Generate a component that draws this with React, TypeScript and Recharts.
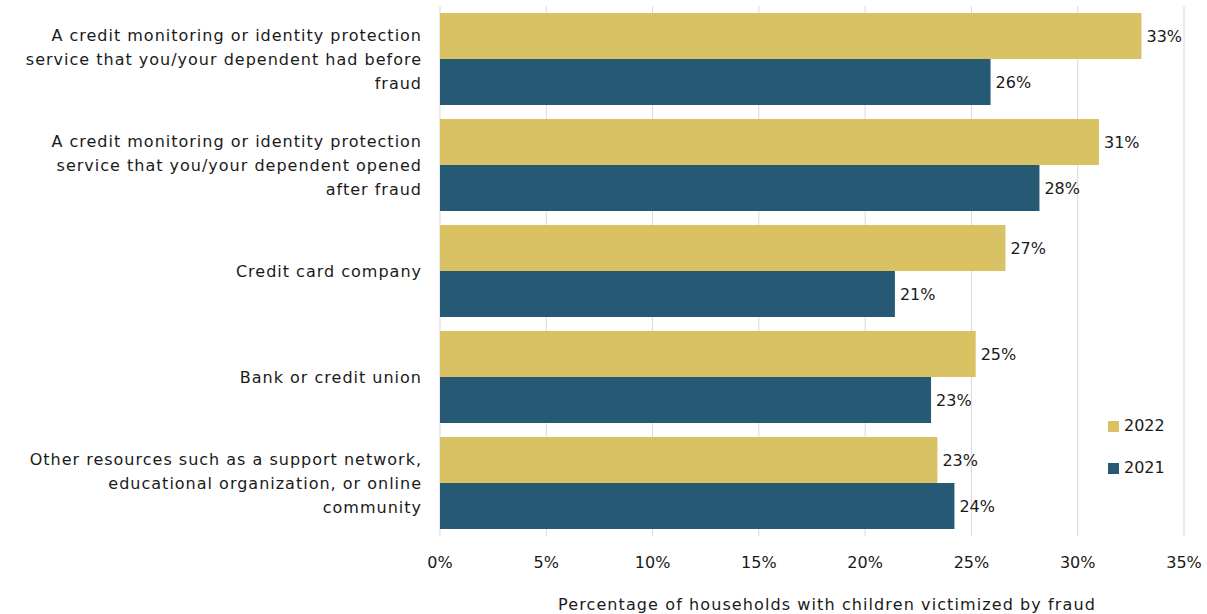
import React from "react";
import { Bar, BarChart, CartesianGrid, LabelList, XAxis, YAxis } from "recharts";

const categories = [
  "A credit monitoring or identity protection|service that you/your dependent had before|fraud",
  "A credit monitoring or identity protection|service that you/your dependent opened|after fraud",
  "Credit card company",
  "Bank or credit union",
  "Other resources such as a support network,|educational organization, or online|community",
];
const values2022 = [33.0, 31.0, 26.6, 25.2, 23.4];
const values2021 = [25.9, 28.2, 21.4, 23.1, 24.2];
const xTicks = [0, 5, 10, 15, 20, 25, 30, 35];

const GOLD = "#D9C263";
const BLUE = "#265A74";
const FONT = "'DejaVu Sans', sans-serif";
const TEXT = "#1a1a1a";
const FS = 16;

const data = categories.map((c, i) => ({ cat: c, y2022: values2022[i], y2021: values2021[i] }));

function CatTick(props: any) {
  const { x, y, payload } = props;
  const lines: string[] = String(payload.value).split("|");
  const lh = 24;
  const start = -((lines.length - 1) * lh) / 2;
  return (
    <text x={x} y={y} textAnchor="end" fill={TEXT} fontSize={FS} fontFamily={FONT} letterSpacing={1}>
      {lines.map((l, i) => (
        <tspan key={i} x={x} y={y + start + i * lh} dy="0.35em">
          {l}
        </tspan>
      ))}
    </text>
  );
}

function LegendBox() {
  const items = [
    { label: "2022", color: GOLD },
    { label: "2021", color: BLUE },
  ];
  return (
    <div
      style={{
        position: "absolute",
        left: 1108,
        top: 415,
        display: "flex",
        flexDirection: "column",
        gap: 20,
      }}
    >
      {items.map((it) => (
        <div
          key={it.label}
          style={{ display: "flex", alignItems: "center", gap: 5, fontFamily: FONT, fontSize: FS, color: TEXT, lineHeight: "22px" }}
        >
          <span style={{ width: 11, height: 11, background: it.color, display: "inline-block" }} />
          {it.label}
        </div>
      ))}
    </div>
  );
}

export default function App() {
  return (
    <div style={{ position: "absolute", left: 0, top: 0, width: 1207, height: 614, background: "#fff" }}>
      <BarChart
        width={1207}
        height={614}
        data={data}
        layout="vertical"
        margin={{ top: 6, right: 23, bottom: 48, left: 0 }}
        barCategoryGap={7}
        barGap={0}
      >
        <CartesianGrid horizontal={false} vertical stroke="#d9d9d9" />
        <XAxis
          type="number"
          domain={[0, 35]}
          ticks={xTicks}
          tickFormatter={(v: number) => `${v}%`}
          axisLine={false}
          tickLine={false}
          height={30}
          tick={{ fill: TEXT, fontSize: FS, fontFamily: FONT }}
          tickMargin={15}
          label={{
            value: "Percentage of households with children victimized by fraud",
            position: "insideBottom",
            offset: -44,
            dx: 15,
            fill: TEXT,
            fontSize: FS,
            fontFamily: FONT,
            letterSpacing: 1.1,
          }}
        />
        <YAxis
          type="category"
          dataKey="cat"
          width={440}
          axisLine={false}
          tickLine={false}
          tick={<CatTick />}
          tickMargin={12}
        />
        <Bar dataKey="y2022" name="2022" fill={GOLD} isAnimationActive={false}>
          <LabelList
            dataKey="y2022"
            position="right"
            offset={5}
            formatter={(v: unknown) => `${Math.round(Number(v))}%`}
            fill={TEXT}
            fontSize={FS}
            fontFamily={FONT}
          />
        </Bar>
        <Bar dataKey="y2021" name="2021" fill={BLUE} isAnimationActive={false}>
          <LabelList
            dataKey="y2021"
            position="right"
            offset={5}
            formatter={(v: unknown) => `${Math.round(Number(v))}%`}
            fill={TEXT}
            fontSize={FS}
            fontFamily={FONT}
          />
        </Bar>
      </BarChart>
      <LegendBox />
    </div>
  );
}
